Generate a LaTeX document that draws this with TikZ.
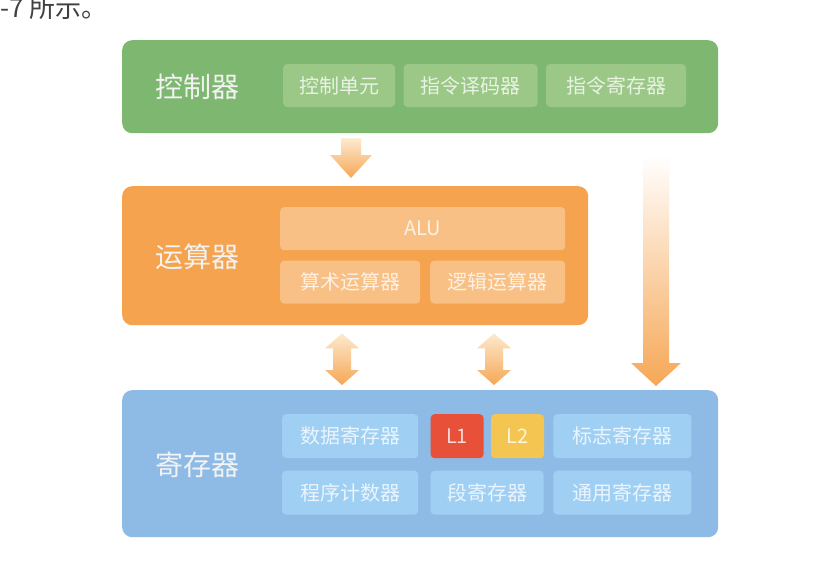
\documentclass[tikz,border=0pt]{standalone}
\usepackage{fontspec}
\setmainfont{Noto Sans CJK SC}
\usetikzlibrary{positioning,calc}
\definecolor{ctrlgreen}{RGB}{125,183,112}
\definecolor{ctrlsub}{RGB}{155,199,135}
\definecolor{calcorange}{RGB}{245,163,78}
\definecolor{calcsub}{RGB}{248,192,133}
\definecolor{regblue}{RGB}{141,187,230}
\definecolor{regsub}{RGB}{160,207,244}
\definecolor{lonered}{RGB}{233,80,57}
\definecolor{ltwoyellow}{RGB}{245,197,82}
\definecolor{arrowlight}{RGB}{253,233,207}
\definecolor{arroworange}{RGB}{246,167,85}
\tikzset{
  bigbox/.style={
    rounded corners=10pt,
    inner sep=0pt,
    anchor=north west
  },
  title/.style={text=white!95!black, font=\fontsize{28}{32}\selectfont},
  subbox/.style={
    rounded corners=4pt,
    inner sep=0pt,
    minimum height=43,
    font=\fontsize{20}{24}\selectfont
  },
  gsub/.style={subbox, fill=ctrlsub, text=white!78!ctrlsub},
  osub/.style={subbox, fill=calcsub, text=white!78!calcsub},
  bsub/.style={subbox, fill=regsub, minimum height=44, text=white!78!regsub},
  lbox/.style={subbox, minimum height=44, minimum width=53, text=white!80!#1, fill=#1},
  arrowfade/.style={top color=arrowlight, bottom color=arroworange}
}
% block arrow pointing down: [shading] start, end, shaft half, head half, head length
\newcommand{\fatdown}[6][]{%
  \shade[#1] let \p1=(#2), \p2=(#3) in
    (\x1-#4pt,\y1) -- (\x1+#4pt,\y1) -- (\x1+#4pt,\y2+#6pt) -- (\x1+#5pt,\y2+#6pt)
    -- (\x1,\y2) -- (\x1-#5pt,\y2+#6pt) -- (\x1-#4pt,\y2+#6pt) -- cycle;}
% block arrow with two heads
\newcommand{\fatboth}[6][]{%
  \shade[#1] let \p1=(#2), \p2=(#3) in
    (\x1,\y1) -- (\x1+#5pt,\y1-#6pt) -- (\x1+#4pt,\y1-#6pt) -- (\x1+#4pt,\y2+#6pt)
    -- (\x1+#5pt,\y2+#6pt) -- (\x1,\y2) -- (\x1-#5pt,\y2+#6pt) -- (\x1-#4pt,\y2+#6pt)
    -- (\x1-#4pt,\y1-#6pt) -- (\x1-#5pt,\y1-#6pt) -- cycle;}

\begin{document}
\begin{tikzpicture}[x=1pt,y=-1pt]
  \useasboundingbox[fill=white] (0,0) rectangle (828,562);
  \node[anchor=base west, text=black!75, font=\fontsize{26}{30}\selectfont] (caption) at (-3,17) {-7 所示。};

  % controller
  \node[bigbox, fill=ctrlgreen, minimum width=596, minimum height=93] (ctrl) at (122,40) {};
  \node[title] (ctrlname) at ($(ctrl.west)+(75,0)$) {控制器};
  \node[gsub, minimum width=112, anchor=west] (cu) at (283,85.5) {控制单元};
  \node[gsub, minimum width=134, right=8pt of cu] (decoder) {指令译码器};
  \node[gsub, minimum width=140, right=8pt of decoder] (ir) {指令寄存器};

  % arithmetic unit
  \node[bigbox, fill=calcorange, minimum width=466, minimum height=139] (calc) at (122,186) {};
  \node[title] (calcname) at ($(calc.west)+(75,1)$) {运算器};
  \node[osub, minimum width=285, anchor=north west] (alu) at (280,207) {ALU};
  \node[osub, minimum width=140, below right=10pt and 0pt of alu.south west] (arith) {算术运算器};
  \node[osub, minimum width=135, below left=10pt and 0pt of alu.south east] (logic) {逻辑运算器};

  % registers
  \node[bigbox, fill=regblue, minimum width=596, minimum height=147] (reg) at (122,390) {};
  \node[title] (regname) at ($(reg.west)+(75,1)$) {寄存器};
  \node[bsub, minimum width=136, anchor=north west] (data) at (282,414) {数据寄存器};
  \node[lbox=lonered, right=12pt of data] (lone) {L1};
  \node[lbox=ltwoyellow, right=7pt of lone] (ltwo) {L2};
  \node[bsub, minimum width=138, right=9pt of ltwo] (flag) {标志寄存器};
  \node[bsub, minimum width=136, below=12pt of data] (pc) {程序计数器};
  \node[bsub, minimum width=113, below right=12pt and 0pt of lone.south west] (seg) {段寄存器};
  \node[bsub, minimum width=138, below=12pt of flag] (gen) {通用寄存器};

  % arrows
  \coordinate (downs) at ($(ctrl.south west)+(229,5)$);
  \coordinate (downe) at ($(calc.north west)+(229,-8)$);
  \coordinate (boths) at ($(calc.south west)+(220,8)$);
  \coordinate (bothe) at ($(reg.north west)+(220,-5)$);
  \coordinate (otherboths) at ($(calc.south west)+(372,8)$);
  \coordinate (otherbothe) at ($(reg.north west)+(372,-5)$);
  \coordinate (longs) at ($(ctrl.south west)+(534,22)$);
  \coordinate (longe) at ($(reg.north west)+(534,-4)$);
  \fatdown[arrowfade]{downs}{downe}{10}{21}{23}
  \fatboth[arrowfade]{boths}{bothe}{9}{17}{15}
  \fatboth[arrowfade]{otherboths}{otherbothe}{9}{17}{15}
  \fatdown[top color=white, middle color=arroworange!55!white, bottom color=arroworange]{longs}{longe}{13}{25}{23}
\end{tikzpicture}
\end{document}
